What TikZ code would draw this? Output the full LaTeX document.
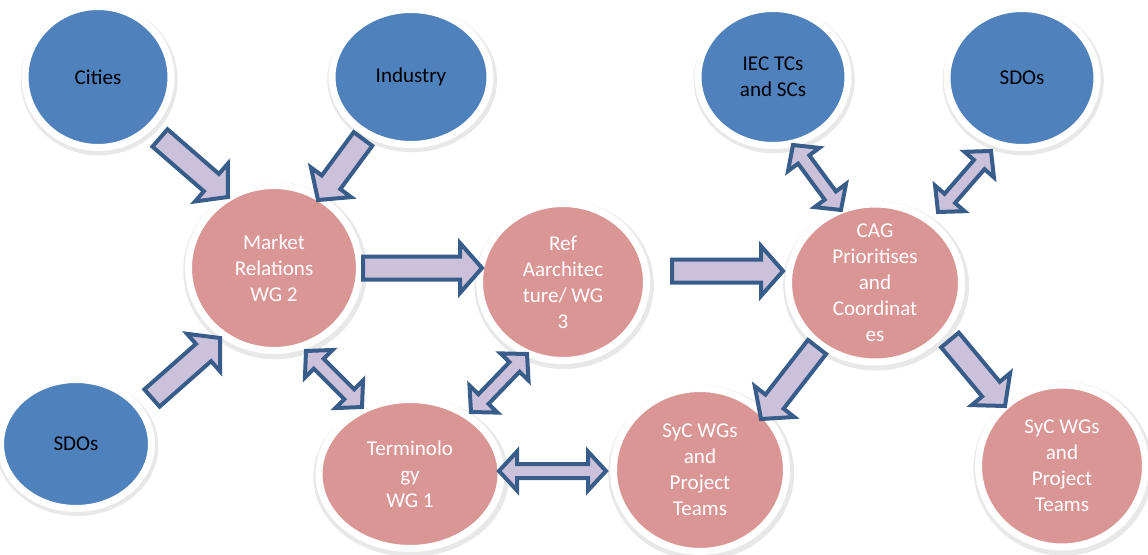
\documentclass[tikz,border=0pt]{standalone}
\usepackage{fontspec
           ,tikz}
\usetikzlibrary{calc,shapes.geometric,shadows}
\setmainfont{Carlito}
\definecolor{bubblue}{HTML}{4F81BD}
\definecolor{bubpink}{HTML}{D99694}
\definecolor{arrfill}{HTML}{CCC1DA}
\definecolor{arrline}{HTML}{385D8A}
\newcommand{\fatarrow}[2]{%
\coordinate (fa-s) at #1;
\coordinate (fa-t) at #2;
\coordinate (fa-h) at ($(fa-t)!0.44cm!(fa-s)$);
\draw [blockarrow] ($(fa-s)!0.23cm!90:(fa-t)$) -- ($(fa-h)!0.23cm!90:(fa-t)$) -- ($(fa-h)!0.5cm!90:(fa-t)$) -- (fa-t) -- ($(fa-h)!0.5cm!-90:(fa-t)$) -- ($(fa-h)!0.23cm!-90:(fa-t)$) -- ($(fa-s)!0.23cm!-90:(fa-t)$) -- cycle;}
\newcommand{\dblarrow}[2]{%
\coordinate (da-s) at #1;
\coordinate (da-t) at #2;
\coordinate (da-g) at ($(da-s)!0.36cm!(da-t)$);
\coordinate (da-h) at ($(da-t)!0.36cm!(da-s)$);
\draw [blockarrow] (da-s) -- ($(da-g)!0.39cm!90:(da-t)$) -- ($(da-g)!0.14cm!90:(da-t)$) -- ($(da-h)!0.14cm!90:(da-t)$) -- ($(da-h)!0.39cm!90:(da-t)$) -- (da-t) -- ($(da-h)!0.39cm!-90:(da-t)$) -- ($(da-h)!0.14cm!-90:(da-t)$) -- ($(da-g)!0.14cm!-90:(da-t)$) -- ($(da-g)!0.39cm!-90:(da-t)$) -- cycle;}

\begin{document}
\begin{tikzpicture}[x=0.02cm,y=-0.02cm,
  bubble/.style={ellipse,draw=white,line width=0.14cm,inner sep=0pt,
    drop shadow={opacity=0.18,shadow scale=1.075,shadow xshift=0.6pt,shadow yshift=-1.4pt}},
  bluebub/.style={bubble,fill=bubblue},
  pinkbub/.style={bubble,fill=bubpink},
  bluetext/.style={align=center,text=black,font=\fontsize{12}{14.8}\selectfont},
  pinktext/.style={align=center,text=white,font=\fontsize{12}{14.8}\selectfont},
  blockarrow/.style={draw=arrline,fill=arrfill,line width=0.08cm,line join=miter}]
\useasboundingbox (0,0) rectangle (1148,554);
\node [bluebub,minimum width=2.92cm,minimum height=2.82cm,label={[bluetext]center:Cities}] (cities) at (98,77) {};
\node [bluebub,minimum width=3.16cm,minimum height=2.70cm,label={[bluetext]center:Industry}] (industry) at (411,77) {};
\node [bluebub,minimum width=3.02cm,minimum height=2.58cm,label={[bluetext]center:SDOs}] (sdoleft) at (76,444) {};
\node [bluebub,minimum width=3.00cm,minimum height=2.74cm,label={[bluetext]center:IEC TCs\\and SCs}] (iec) at (773,77) {};
\node [bluebub,minimum width=3.00cm,minimum height=2.78cm,label={[bluetext]center:SDOs}] (sdoright) at (1022,78) {};
\node [pinkbub,minimum width=3.42cm,minimum height=3.30cm,label={[pinktext]center:Market\\Relations\\WG 2}] (market) at (274,268) {};
\node [pinkbub,minimum width=3.34cm,minimum height=3.14cm,label={[pinktext]center:Ref\\Aarchitec\\ture/ WG\\3}] (ref) at (563,282) {};
\node [pinkbub,minimum width=3.64cm,minimum height=2.98cm,label={[pinktext]center:Terminolo\\gy\\WG 1}] (term) at (410,474) {};
\node [pinkbub,minimum width=3.46cm,minimum height=3.26cm,label={[pinktext]center:SyC WGs\\and\\Project\\Teams}] (sycmid) at (700,470) {};
\node [pinkbub,minimum width=3.46cm,minimum height=3.16cm,label={[pinktext]center:CAG\\Prioritises\\and\\Coordinat\\es}] (cag) at (875,283) {};
\node [pinkbub,minimum width=3.34cm,minimum height=3.24cm,label={[pinktext]center:SyC WGs\\and\\Project\\Teams}] (sycright) at (1062,466) {};
\fatarrow{($(cities)+(62,61)$)}{($(market)+(-46,-71)$)}
\fatarrow{($(industry)+(-48,62)$)}{($(market)+(44,-68)$)}
\fatarrow{($(sdoleft)+(76,-46)$)}{($(market)+(-54,70)$)}
\fatarrow{($(market)+(89,0)$)}{($(ref)+(-81,-14)$)}
\fatarrow{($(ref)+(109,-11)$)}{($(cag)+(-92,-12)$)}
\fatarrow{($(cag)+(-58,64)$)}{($(sycmid)+(61,-51)$)}
\fatarrow{($(cag)+(75,57)$)}{($(sycright)+(-57,-60)$)}
\dblarrow{($(market)+(32,83)$)}{($(term)+(-48,-67)$)}
\dblarrow{($(ref)+(-36,72)$)}{($(term)+(61,-62)$)}
\dblarrow{($(term)+(89,-3)$)}{($(sycmid)+(-94,1)$)}
\dblarrow{($(iec)+(20,68)$)}{($(cag)+(-34,-73)$)}
\dblarrow{($(sdoright)+(-31,73)$)}{($(cag)+(63,-71)$)}
\end{tikzpicture}
\end{document}
